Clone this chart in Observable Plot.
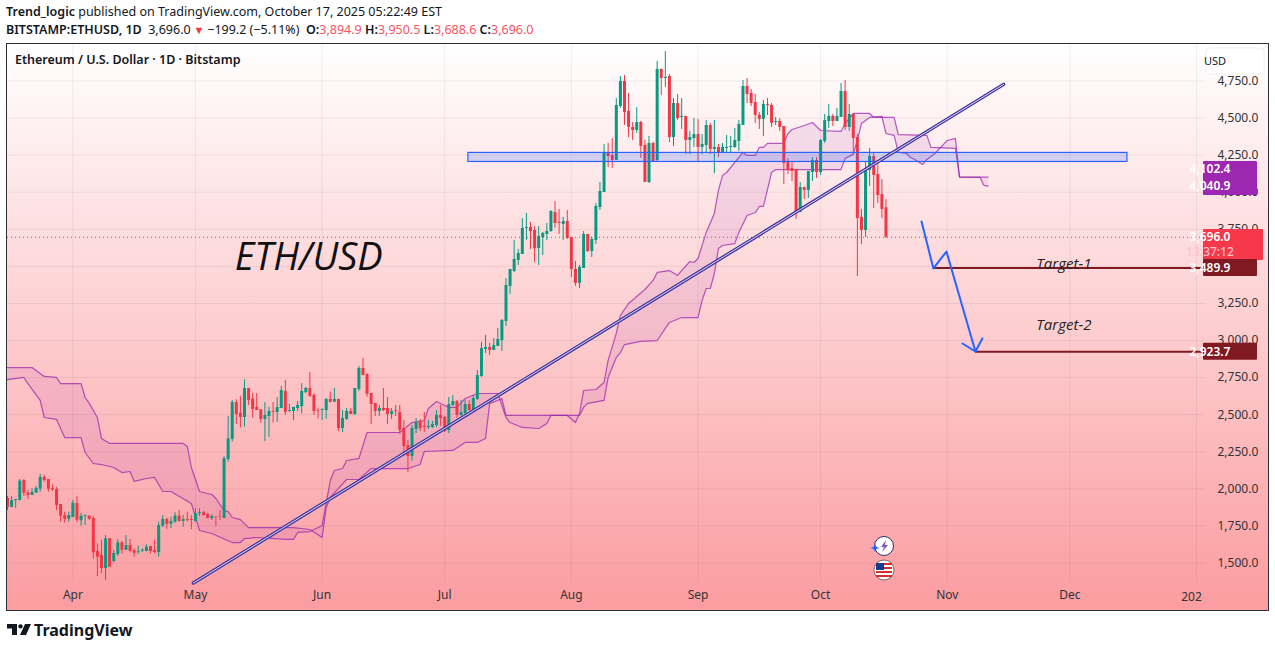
<!DOCTYPE html>
<html>
<head>
<meta charset="utf-8">
<script src="https://cdn.jsdelivr.net/npm/d3@7"></script>
<script src="https://cdn.jsdelivr.net/npm/@observablehq/plot@0.6"></script>
<style>
html,body{margin:0;padding:0;background:#fff;width:1275px;height:648px;overflow:hidden;font-family:"Noto Sans",sans-serif;color:#131722}
.h{position:absolute;left:6px;white-space:nowrap;font-size:12.5px;line-height:16px}
.h b{font-weight:600}
.v{color:#f7525f}
#wrap{position:absolute;left:6px;top:43px;width:1263px;height:568px;background:linear-gradient(#ffffff,#fb9ca0);box-shadow:inset 0 0 0 1px #2a2e39}
#wrap svg{display:block;position:absolute;left:0;top:0}
#title{position:absolute;left:9px;top:9px;font-size:12.5px;font-weight:600;line-height:16px;white-space:nowrap;color:#131722}
#logo{position:absolute;left:6px;top:619px;display:flex;align-items:center;gap:2px;font-size:16px;font-weight:700;color:#131722}
</style>
</head>
<body>
<div class="h" style="top:4px"><b>Trend_logic</b> published on TradingView.com, October 17, 2025 05:22:49 EST</div>
<div class="h" style="top:22px"><b>BITSTAMP:ETHUSD, 1D</b>&nbsp; 3,696.0<span style="color:#f23645;font-size:11px"> ▼ </span>−199.2 (−5.11%)&nbsp; <b>O:</b><span class="v">3,894.9</span> <b>H:</b><span class="v">3,950.5</span> <b>L:</b><span class="v">3,688.6</span> <b>C:</b><span class="v">3,696.0</span></div>
<div id="wrap"><div id="chart"></div><div id="title">Ethereum / U.S. Dollar · 1D · Bitstamp</div></div>
<div id="logo"><svg width="26" height="20" viewBox="0 0 26 20"><path d="M1 4h10v11H6V8.5H1z M14.5 4.2a2.2 2.2 0 1 0 .01 0z M19 4h6l-5 11h-6z" fill="#131722"/></svg><span>TradingView</span></div>
<script>
const open=[1935,1874,1921,1921,2056,1973,1955,1971,1998,2077,
2063,2002,1996,1895,1820,1795,1807,1901,1785,1816,
1816,1800,1578,1551,1463,1665,1510,1557,1636,1586,
1618,1584,1573,1580,1578,1611,1584,1571,1748,1793,
1762,1775,1816,1780,1793,1793,1780,1832,1839,1827,
1800,1812,1814,1800,2198,2333,2582,2510,2481,2677,
2605,2549,2533,2468,2488,2522,2515,2542,2657,2522,
2522,2542,2555,2650,2677,2630,2528,2528,2528,2603,
2584,2603,2407,2468,2522,2501,2670,2812,2771,2643,
2576,2522,2542,2542,2501,2528,2515,2407,2292,2218,
2400,2454,2421,2414,2414,2427,2495,2481,2394,2562,
2589,2495,2508,2569,2528,2603,2758,2940,2953,2933,
2960,3000,3128,3365,3466,3540,3580,3756,3762,3742,
3621,3695,3715,3735,3863,3796,3783,3803,3695,3479,
3385,3486,3715,3600,3675,3897,3998,4261,4248,4214,
4578,4747,4545,4437,4416,4470,4315,4066,4329,4214,
4828,4767,4780,4369,4598,4504,4511,4349,4362,4389,
4302,4315,4450,4288,4302,4268,4295,4302,4302,4342,
4450,4713,4666,4605,4518,4491,4592,4585,4470,4477,
4443,4201,4160,4153,3863,4032,4012,4133,4214,4133,
4342,4477,4511,4477,4504,4679,4437,4524,4369,3830,
3742,4147,4241,4120,3985,3894.9];
const high=[1949,1949,1928,2063,2063,1989,2002,2016,2097,2090,
2063,2029,2009,1895,1843,1843,1921,1949,1836,1825,
1820,1814,1629,1652,1685,1665,1584,1658,1645,1685,
1658,1596,1611,1596,1623,1611,1652,1775,1820,1802,
1809,1839,1854,1820,1843,1820,1866,1866,1848,1836,
1825,1812,1854,2218,2488,2596,2601,2623,2735,2677,
2645,2643,2533,2582,2551,2582,2616,2692,2731,2569,
2549,2589,2710,2685,2785,2641,2544,2540,2609,2652,
2677,2603,2528,2542,2542,2677,2825,2879,2776,2643,
2576,2562,2677,2616,2542,2562,2562,2461,2326,2427,
2474,2468,2515,2461,2454,2528,2562,2488,2616,2630,
2596,2596,2596,2596,2630,2798,2987,3034,2980,3014,
3081,3142,3418,3479,3675,3614,3823,3857,3796,3769,
3769,3729,3789,3877,3938,3884,3830,3877,3695,3533,
3506,3735,3715,3695,3924,4066,4322,4329,4362,4632,
4781,4787,4666,4470,4571,4477,4349,4376,4335,4882,
4828,4949,4794,4632,4659,4632,4511,4410,4497,4491,
4389,4484,4464,4484,4322,4329,4383,4376,4430,4484,
4754,4767,4693,4659,4538,4619,4632,4598,4504,4497,
4443,4228,4207,4153,4066,4032,4140,4234,4234,4356,
4524,4592,4524,4565,4733,4754,4592,4531,4389,3884,
4201,4295,4261,4214,4086,3950.5];
const low=[1854,1874,1868,1921,1949,1928,1955,1971,1977,2043,
1977,1982,1854,1775,1768,1773,1805,1771,1748,1753,
1789,1528,1409,1429,1382,1470,1501,1544,1559,1584,
1573,1539,1557,1571,1576,1562,1562,1539,1739,1726,
1733,1768,1775,1741,1775,1724,1775,1814,1816,1798,
1787,1746,1787,1800,2180,2315,2434,2412,2416,2562,
2476,2528,2443,2319,2348,2445,2449,2542,2495,2517,
2461,2522,2506,2641,2618,2495,2472,2461,2468,2578,
2582,2387,2380,2461,2501,2495,2657,2764,2618,2434,
2488,2488,2522,2434,2468,2488,2367,2218,2110,2185,
2373,2387,2380,2400,2407,2414,2421,2380,2373,2555,
2474,2488,2495,2522,2522,2596,2751,2913,2899,2933,
2960,2926,3095,3311,3459,3506,3580,3675,3614,3526,
3506,3574,3675,3729,3756,3715,3675,3681,3425,3365,
3351,3486,3594,3560,3648,3877,3998,4167,4160,4214,
4565,4450,4369,4349,4396,4228,4066,4059,4201,4207,
4652,4706,4335,4309,4484,4423,4255,4255,4302,4207,
4255,4268,4255,4126,4234,4268,4268,4268,4295,4275,
4450,4598,4578,4464,4423,4376,4518,4437,4450,4410,
4052,4120,4072,3816,3863,3951,3958,4072,4093,4113,
4329,4430,4443,4477,4504,4416,4410,4248,3432,3648,
3695,4039,3890,3924,3823,3688.6];
const close=[1875,1921,1928,2052,1971,1955,1976,2002,2077,2056,
1998,1993,1888,1816,1795,1820,1903,1789,1816,1820,
1795,1569,1539,1463,1663,1472,1564,1636,1586,1618,
1578,1566,1578,1586,1607,1578,1571,1753,1793,1760,
1780,1816,1780,1793,1787,1787,1832,1839,1820,1800,
1814,1809,1812,2203,2337,2582,2501,2481,2677,2596,
2535,2528,2468,2495,2522,2517,2549,2663,2517,2528,
2549,2562,2657,2677,2623,2522,2524,2535,2603,2584,
2603,2407,2474,2522,2501,2677,2812,2764,2638,2569,
2522,2542,2528,2501,2522,2522,2394,2286,2218,2407,
2447,2407,2414,2421,2434,2495,2474,2387,2569,2589,
2495,2515,2569,2528,2609,2764,2946,2953,2933,2967,
3007,3135,3371,3479,3547,3587,3756,3762,3735,3621,
3702,3722,3735,3870,3789,3789,3803,3688,3479,3385,
3493,3715,3600,3681,3904,4005,4261,4241,4214,4585,
4747,4538,4437,4416,4470,4309,4066,4329,4207,4828,
4767,4774,4369,4598,4497,4511,4349,4369,4389,4302,
4322,4450,4288,4302,4261,4302,4302,4309,4349,4457,
4713,4659,4598,4518,4491,4592,4585,4464,4477,4437,
4194,4147,4140,3863,4032,4012,4140,4214,4133,4349,
4484,4511,4477,4511,4679,4437,4524,4362,3823,3742,
4160,4241,4113,3978,3884,3696];

// cloud outlines: day offset from the first candle, price
const spanADay=[0,6,9,12,13,18,19,20,22,23,25,43,44,45,47,50,51,53,54,55,57,59,70,74,77,78,79,83,86,89,98,101,102,109,112,115,117,118,120,121,122,140,141,142,146,147,149,150,151,155,159,162,165,169,170,171,172,173,174,175,178,179,181,183,184,185,187,188,204,205,207,208,209,211,214,215,217,218,220,221,222,224,225,227,230,232,233,238,239,240];
const spanAPrice=[2818,2818,2758,2751,2710,2710,2616,2576,2481,2340,2306,2306,2286,2144,1982,1962,1935,1854,1847,1807,1793,1739,1739,1726,1672,1874,1942,2063,2063,2137,2137,2164,2252,2259,2313,2313,2340,2576,2596,2609,2495,2495,2549,2576,2596,2751,2886,2919,2973,2994,3000,3122,3155,3155,3270,3351,3351,3452,3621,3641,3654,3729,3843,3863,3904,3904,4133,4153,4153,4228,4255,4349,4464,4504,4511,4396,4383,4268,4261,4234,4221,4187,4221,4261,4349,4363,4102,4100,4046,4040.9];
const spanBDay=[0,4,5,8,9,12,14,18,19,21,23,26,28,30,31,34,36,38,40,45,47,50,55,57,58,61,68,70,71,74,77,79,80,82,83,86,88,96,99,102,103,105,108,110,112,115,120,122,123,126,130,132,133,137,139,140,141,144,146,147,149,150,152,156,158,159,162,164,165,167,168,169,171,173,174,175,176,180,181,183,184,185,186,190,191,192,195,197,199,204,205,207,211,212,217,218,225,226,232,233,240];
const spanBPrice=[2737,2751,2710,2596,2481,2468,2346,2346,2245,2171,2164,2144,2110,2117,2050,2070,2077,1982,1982,1901,1719,1699,1638,1638,1665,1672,1659,1659,1706,1712,1753,2056,2124,2137,2191,2205,2380,2380,2447,2461,2542,2589,2549,2549,2609,2643,2643,2481,2447,2414,2407,2441,2495,2495,2447,2508,2663,2670,2717,2866,3048,3169,3250,3344,3405,3459,3472,3439,3472,3533,3526,3553,3729,3857,4012,4113,4133,4268,4248,4248,4302,4302,4329,4329,4396,4423,4450,4470,4416,4410,4464,4531,4531,4504,4504,4389,4383,4302,4295,4102.4,4102.4];

// hand-drawn objects: day offset, price
const trendDay=[45.5,243.8], trendPrice=[1365,4727];
const zoneDay=[112.8,274.1], zonePrice=[4204,4265];
const arrowDay=[223.7,226.6,229.8,236.9], arrowPrice=[3803,3486,3600,2926];
const headDay=[233.7,236.9,238.6], headPrice=[2980,2926,3014];
const targetDay=[226.6,236.9], targetEndDay=292.5, targetPrice=[3489.9,2923.7];
const targetNames=["Target-1","Target-2"], targetLabelPrice=[3513,3102], targetLabelDay=251.8;

const priceTicks=[1500,1750,2000,2250,2500,2750,3000,3250,3500,3750,4000,4250,4500,4750].filter(v=>v!==3500);
const monthDates=["2025-04-01","2025-05-01","2025-06-01","2025-07-01","2025-08-01","2025-09-01","2025-10-01","2025-11-01","2025-12-01"].map(d=>new Date(d));
const gridDates=[...monthDates,new Date("2026-01-01")];
const lastPrice=3696;

const day=d=>new Date(Date.UTC(2025,2,16)+d*864e5);
const candles=open.map((o,i)=>({t:day(i),o,h:high[i],l:low[i],c:close[i],col:close[i]>=o?"#089981":"#f23645"}));
const pts=(ds,ps)=>ds.map((d,i)=>({t:day(d),p:ps[i]}));
const A=pts(spanADay,spanAPrice), B=pts(spanBDay,spanBPrice);
const trend=pts(trendDay,trendPrice);
const FONT='"Noto Sans",sans-serif';
const cloudStyle={x:"t",y:"p",stroke:"#9c27b0",strokeOpacity:.75,strokeWidth:1.2,clip:true};

const chart=Plot.plot({
  width:1263,height:568,
  marginLeft:1,marginRight:64,marginTop:1,marginBottom:29,
  style:{fontFamily:FONT,fontSize:"12px",background:"transparent",overflow:"visible",color:"#131722"},
  x:{type:"utc",domain:[day(0),day(293.2)],range:[1,1199],label:null},
  y:{type:"linear",domain:[1368.6,4996],range:[539,1],label:null},
  marks:[
    Plot.gridX(gridDates,{stroke:"#000",strokeOpacity:.06,strokeWidth:1}),
    Plot.gridY(priceTicks.concat(3500),{stroke:"#000",strokeOpacity:.06,strokeWidth:1}),
    Plot.ruleY([lastPrice],{stroke:"#f23645",strokeWidth:1,strokeDasharray:"1 3"}),
    Plot.line([...A,...B.slice().reverse()],{x:"t",y:"p",fill:"#9c27b0",fillOpacity:.1,stroke:"none",clip:true}),
    Plot.line(A,cloudStyle),
    Plot.line(B,cloudStyle),
    Plot.ruleX(candles,{x:"t",y1:"l",y2:"h",stroke:"col",strokeWidth:1,clip:true}),
    Plot.ruleX(candles,{x:"t",y1:"o",y2:"c",stroke:"col",strokeWidth:3,clip:true}),
    Plot.rect([0],{x1:()=>day(zoneDay[0]),x2:()=>day(zoneDay[1]),y1:()=>zonePrice[0],y2:()=>zonePrice[1],fill:"#2962ff",fillOpacity:.2,stroke:"#2962ff",strokeWidth:1.2}),
    Plot.line(trend,{x:"t",y:"p",stroke:"#3f35a0",strokeWidth:3.4}),
    Plot.line(trend,{x:"t",y:"p",stroke:"#e6daf0",strokeWidth:1}),
    Plot.ruleY(targetPrice,{x1:(d,i)=>day(targetDay[i]),x2:()=>day(targetEndDay),y:d=>d,stroke:"#801922",strokeWidth:2}),
    Plot.line(pts(arrowDay,arrowPrice),{x:"t",y:"p",stroke:"#2962ff",strokeWidth:2}),
    Plot.line(pts(headDay,headPrice),{x:"t",y:"p",stroke:"#2962ff",strokeWidth:2}),
    Plot.text(["ETH/USD"],{x:()=>day(55.6),y:()=>3560,text:d=>d,textAnchor:"start",fontSize:38,fontStyle:"italic",fill:"#111",fontFamily:"'Open Sans',sans-serif"}),
    Plot.text(targetNames,{x:()=>day(targetLabelDay),y:(d,i)=>targetLabelPrice[i],text:d=>d,textAnchor:"start",fontSize:15,fontStyle:"italic",fill:"#222",fontFamily:"'Open Sans',sans-serif"}),
    Plot.axisX(monthDates,{anchor:"bottom",tickSize:0,tickPadding:8,tickFormat:d3.utcFormat("%b"),fill:"#333",label:null,fontSize:12}),
    Plot.text(["202"],{x:()=>new Date("2026-01-01"),frameAnchor:"bottom",dy:18,dx:-5,text:d=>d,fill:"#333",fontSize:12}),
    Plot.axisY(priceTicks,{anchor:"right",tickSize:0,tickPadding:12,tickFormat:d3.format(",.1f"),fill:"#333",label:null,fontSize:12})
  ]
});
document.getElementById("chart").appendChild(chart);

// price tags and markers placed from the chart's own y scale
const Y=v=>chart.scale("y").apply(v);
const g=d3.select(chart).append("g").attr("font-family",FONT).attr("font-size",12);
const tag=(x,yy,w,h,fill)=>g.append("rect").attr("x",x).attr("y",yy).attr("width",w).attr("height",h).attr("fill",fill).attr("rx",1);
const lab=(x,yy,t,fill,w)=>g.append("text").attr("x",x).attr("y",yy).attr("dy","0.35em").attr("fill",fill).attr("font-weight",w||600).text(t);
const LX=1204;
tag(1197,118,54,34,"#9c27b0");
lab(LX,Y(4102.4)-7.5,"4,102.4","#fff");
lab(LX,Y(4040.9)+.5,"4,040.9","#fff");
tag(1197,186,60,31,"#f7374a");
lab(LX,Y(lastPrice),"3,696.0","#fff");
lab(LX,Y(lastPrice)+15,"13:37:12","#ffc2c7",500);
targetPrice.forEach((p,i)=>{
  tag(1197,Y(p)-8.5,54,17,"#801922");
  lab(LX,Y(p),d3.format(",.1f")(p),"#fff");
});
// currency box
g.append("rect").attr("x",1200).attr("y",5).attr("width",58).attr("height",26).attr("rx",4).attr("fill","#fff").attr("stroke","#f0f0f2");
g.append("text").attr("x",1209).attr("y",18).attr("dy","0.35em").attr("font-size",11).attr("fill","#131722").text("USD");
// event markers
const m1=g.append("g").attr("transform","translate(878,503)");
m1.append("circle").attr("r",9.5).attr("fill","#fff").attr("stroke","#2a2e60").attr("stroke-width",1);
m1.append("path").attr("d","M2-6 L-3 1 L0 1 L-2 6 L4-1 L1-1 Z").attr("fill","#7e57c2");
m1.append("path").attr("d","M-10-4 L-8.5-1 L-5.5 0 L-8.5 1 L-10 4 L-11.5 1 L-14.5 0 L-11.5-1 Z").attr("fill","#2962ff").attr("transform","translate(1,2)");
const m2=g.append("g").attr("transform","translate(878,527)");
m2.append("circle").attr("r",10).attr("fill","#fff").attr("stroke","#555").attr("stroke-width",.8);
[-6,-2,2,6].forEach(v=>m2.append("rect").attr("x",-8).attr("y",v-1).attr("width",16).attr("height",2).attr("fill","#d32f2f"));
m2.append("rect").attr("x",-8).attr("y",-7).attr("width",8).attr("height",7).attr("fill","#1a3a8f");
</script>
</body>
</html>
